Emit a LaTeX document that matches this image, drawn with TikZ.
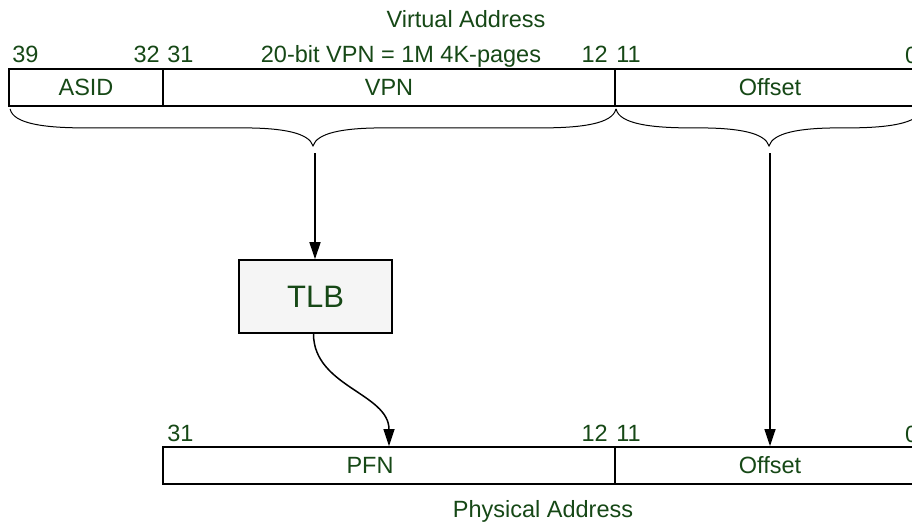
\documentclass[tikz,border=0pt]{standalone}
\usepackage{fontspec}
\setmainfont{Liberation Sans}
\usepackage{xcolor}
\usepackage{tikz}
\usetikzlibrary{
	arrows.meta,                % For Triangle arrows
	positioning,                % For relative placement
	calc                        % For the let ... in braces
}
\definecolor{addrgreen}{RGB}{22,72,22}
\newcommand{\lblfont}{\fontsize{23.5}{28}\selectfont}
\newcommand{\tlbfont}{\fontsize{31}{36}\selectfont}
\tikzset{
	field/.style={
		draw,
		line width=1.8pt,
		inner sep=0pt,
		minimum height=37pt,
		text=addrgreen,
		font=\lblfont
	},
	bitno/.style={
		inner sep=0pt,
		text=addrgreen,
		font=\lblfont
	},
	tlbbox/.style={
		draw,
		line width=1.6pt,
		fill=gray!8,
		inner sep=0pt,
		minimum width=153pt,
		minimum height=73pt,
		text=addrgreen,
		font=\tlbfont
	},
	flow/.style={
		-{Triangle[length=17pt,width=11pt]},
		line width=1.5pt
	},
	braceline/.style={
		line width=1pt
	}
}
% curly brace under a field, tip pointing down
\newcommand{\addrbrace}[2]{%
	\draw[braceline] let \p1=(#1), \p2=(#2), \n1={0.5*(\x1+\x2)} in
		(\p1) .. controls (\x1+3pt,\y1-15pt) and (\x1+35pt,\y1-19pt) .. (\x1+75pt,\y1-19pt)
		-- (\n1-70pt,\y1-19pt) .. controls (\n1-30pt,\y1-19pt) and (\n1-4pt,\y1-24pt) .. (\n1,\y1-37pt)
		.. controls (\n1+4pt,\y1-24pt) and (\n1+30pt,\y1-19pt) .. (\n1+70pt,\y1-19pt)
		-- (\x2-75pt,\y1-19pt) .. controls (\x2-35pt,\y1-19pt) and (\x2-3pt,\y1-15pt) .. (\p2);}

\begin{document}
\begin{tikzpicture}[x=1pt, y=-1pt]
		\useasboundingbox (0,0) rectangle (912,525);
		\clip (0,0) rectangle (912,525);
		
		% Row 1: Virtual address fields
		\node [field, minimum width=154pt] (asid) at (86,87.5) {ASID};
		\node [field, minimum width=452pt] (vpn) at (389,87.5) {VPN};
		\node [field, minimum width=310pt] (voff) at (770,87.5) {Offset};
		
		\node [bitno, anchor=base] (vtitle) at (466,27) {Virtual Address};
		\node [bitno, anchor=base west] (v39) at ([shift={(4pt,6pt)}]asid.north west) {39};
		\node [bitno, anchor=base east] (v32) at ([shift={(-4pt,6pt)}]asid.north east) {32};
		\node [bitno, anchor=base west] (v31) at ([shift={(5pt,6pt)}]vpn.north west) {31};
		\node [bitno, anchor=base] (vpnbits) at (401,62) {20-bit VPN = 1M 4K-pages};
		\node [bitno, anchor=base east] (v12) at ([shift={(-8pt,6pt)}]vpn.north east) {12};
		\node [bitno, anchor=base west] (v11) at ([shift={(2pt,6pt)}]voff.north west) {11};
		\node [bitno, anchor=base west] (v0) at (905,63) {0};
		
		% Braces under the virtual address
		\addrbrace{[shift={(2pt,-2pt)}]asid.south west}{[shift={(0pt,-2pt)}]vpn.south east}
		\addrbrace{[shift={(2pt,-2pt)}]voff.south west}{[shift={(-4pt,-2pt)}]voff.south east}
		\coordinate (vtip) at (315,153);
		\coordinate (otip) at (770,153);
		
		% Row 2: TLB
		\node [tlbbox] (tlb) at (315.5,296.5) {TLB};
		
		% Row 3: Physical address fields
		\node [field, minimum width=452pt] (pfn) at (389,465.5) {};
		\node [bitno] (pfntext) at ([xshift=-19pt]pfn.center) {PFN};
		\node [field, minimum width=310pt] (poff) at (770,465.5) {Offset};
		
		\node [bitno, anchor=base west] (p31) at ([shift={(5pt,5pt)}]pfn.north west) {31};
		\node [bitno, anchor=base east] (p12) at ([shift={(-8pt,5pt)}]pfn.north east) {12};
		\node [bitno, anchor=base west] (p11) at ([shift={(2pt,5pt)}]poff.north west) {11};
		\node [bitno, anchor=base west] (p0) at (905,442) {0};
		\node [bitno, anchor=base] (ptitle) at (543,517) {Physical Address};
		
		% Edges & Connections
		\draw [flow] (vtip) -- (vtip |- tlb.north);
		\draw [flow] ([xshift=-2pt]tlb.south) to[out=-90, in=90] (pfn.north);
		\draw [flow] (otip) -- (poff.north);
	\end{tikzpicture}
\end{document}
